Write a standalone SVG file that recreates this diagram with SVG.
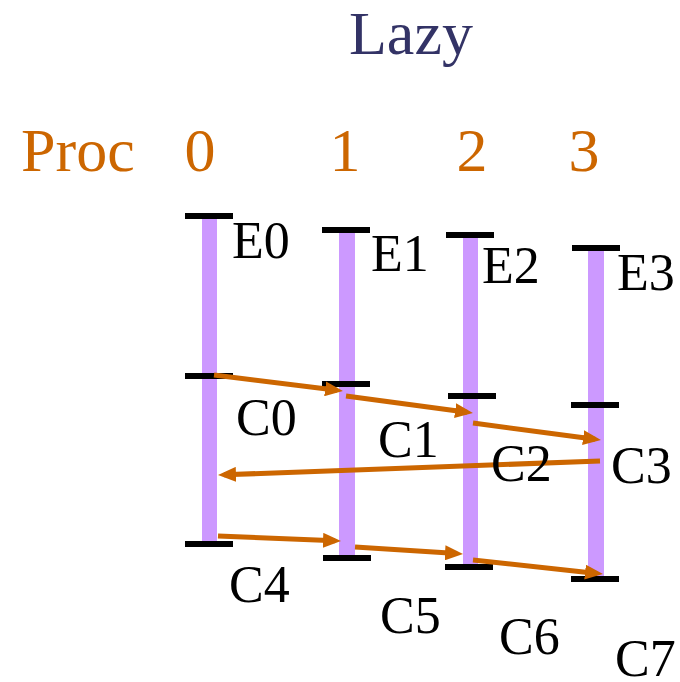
<svg xmlns="http://www.w3.org/2000/svg" width="680" height="682" viewBox="0 0 680 682">
<style>
text{font-family:"Liberation Serif","Times New Roman",serif;}
.title{font-size:62px;fill:#333366;}
.hdr{font-size:62px;fill:#CC6600;}
.lbl{font-size:52px;fill:#000;}
.bar{fill:#CC99FF;}
.tick{stroke:#000;stroke-width:6;}
.arr{stroke:#CC6600;stroke-width:5;fill:none;marker-end:url(#ah);}
</style>
<defs>
<marker id="ah" markerUnits="userSpaceOnUse" markerWidth="18" markerHeight="15" refX="12" refY="7.5" orient="auto">
<path d="M0,0 L18,7.5 L0,15 z" fill="#CC6600"/>
</marker>
</defs>
<rect width="680" height="682" fill="#fff"/>
<text class="title" x="349" y="54">Lazy</text>
<g id="header">
<text class="hdr" x="21" y="171">Proc</text>
<text class="hdr" x="200" y="171" text-anchor="middle">0</text>
<text class="hdr" x="345" y="171" text-anchor="middle">1</text>
<text class="hdr" x="472" y="171" text-anchor="middle">2</text>
<text class="hdr" x="584" y="171" text-anchor="middle">3</text>
</g>
<g id="proc0">
<rect class="bar" x="202" y="216" width="15" height="328"/>
<line class="tick" x1="185" y1="216" x2="233" y2="216"/>
<line class="tick" x1="185" y1="376" x2="233" y2="376"/>
<line class="tick" x1="185" y1="544" x2="233" y2="544"/>
</g>
<g id="proc1">
<rect class="bar" x="339" y="230" width="16" height="328"/>
<line class="tick" x1="322" y1="230" x2="370" y2="230"/>
<line class="tick" x1="322" y1="384" x2="370" y2="384"/>
<line class="tick" x1="323" y1="558" x2="371" y2="558"/>
</g>
<g id="proc2">
<rect class="bar" x="463" y="235" width="15" height="332"/>
<line class="tick" x1="446" y1="235" x2="494" y2="235"/>
<line class="tick" x1="448" y1="396" x2="496" y2="396"/>
<line class="tick" x1="445" y1="567" x2="493" y2="567"/>
</g>
<g id="proc3">
<rect class="bar" x="588" y="248" width="16" height="331"/>
<line class="tick" x1="572" y1="248" x2="620" y2="248"/>
<line class="tick" x1="571" y1="405" x2="619" y2="405"/>
<line class="tick" x1="571" y1="579" x2="619" y2="579"/>
</g>
<g id="connectors">
<line class="arr" x1="214" y1="375" x2="337" y2="390.3"/>
<line class="arr" x1="346" y1="396" x2="467" y2="412.2"/>
<line class="arr" x1="473" y1="423" x2="595" y2="439.2"/>
<line class="arr" x1="600" y1="461" x2="224" y2="474.8"/>
<line class="arr" x1="218" y1="536" x2="335" y2="540.8"/>
<line class="arr" x1="355" y1="547" x2="457" y2="553.6"/>
<line class="arr" x1="473" y1="560" x2="597" y2="573.4"/>
</g>
<g id="labels">
<text class="lbl" x="232" y="258">E0</text>
<text class="lbl" x="371" y="271">E1</text>
<text class="lbl" x="482" y="283">E2</text>
<text class="lbl" x="617" y="290">E3</text>
<text class="lbl" x="236" y="435">C0</text>
<text class="lbl" x="378" y="457">C1</text>
<text class="lbl" x="491" y="481">C2</text>
<text class="lbl" x="611" y="483">C3</text>
<text class="lbl" x="229" y="602">C4</text>
<text class="lbl" x="380" y="633">C5</text>
<text class="lbl" x="499" y="654">C6</text>
<text class="lbl" x="615" y="676">C7</text>
</g>
</svg>
